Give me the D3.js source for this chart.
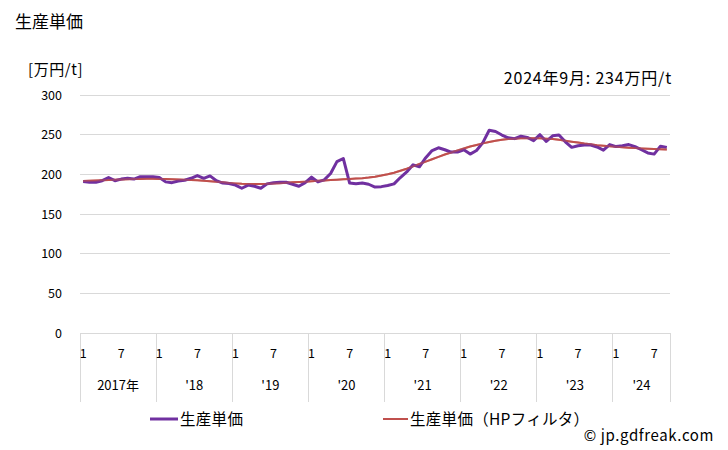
<!DOCTYPE html>
<html><head><meta charset="utf-8">
<script src="https://cdn.jsdelivr.net/npm/d3@7"></script>
<style>
body{margin:0;background:#fff;}
svg text{font-family:"Noto Sans CJK JP","Noto Sans",sans-serif;fill:#000;}
</style></head>
<body><svg id="c" width="728" height="450"></svg>
<script>
const startYear = 2017;
const monthsCount = 93;
const yearLabels = ["2017年","'18","'19","'20","'21","'22","'23","'24"];
const yTicks = [0,50,100,150,200,250,300];
const price = [
 191,190,190,192,196,192,194,195,194,197,197,197,
 196,190.5,189.5,191.5,192.5,195,198.5,195,198,192,189,188.5,
 186.5,182.5,186.5,185,182.5,188,189.5,190,190,187.5,185,189.5,
 196.5,190.5,193,201,216,220,189,188,189,187.5,184,184.5,
 186,188,196,203,212,209.5,221,230,233.5,231,228,228,
 231,225.5,230,240,255.5,254,249.5,246,245,248,246.5,242.5,
 250,241.5,248.5,249.5,241,234,236,237,237,234.5,230.5,237.5,
 235,236,237.5,235,231,227,225.5,235.5,234
];
const priceHP = [
 191.5,191.8,192.1,192.4,192.8,193.1,193.4,193.7,194.0,194.2,194.3,194.3,
 194.2,194.0,193.7,193.4,193.1,192.8,192.4,191.9,191.3,190.6,189.9,189.2,
 188.6,188.1,187.8,187.7,187.8,188.0,188.4,188.9,189.4,189.9,190.4,190.8,
 191.3,191.8,192.3,192.8,193.3,193.7,194.1,194.6,195.2,196.0,197.0,198.4,
 200,202,204.5,207,210,213,216,219,222,225,227.5,230,
 232.5,235,237,239,240.8,242.3,243.5,244.4,245,245.4,245.6,245.6,
 245.4,245,244.4,243.5,242.4,241.2,240,238.8,237.8,236.8,236,235.3,
 234.7,234.1,233.6,233.1,232.7,232.3,231.9,231.5,231.2
];
const seriesNames = ["生産単価","生産単価（HPフィルタ）"];
const colors = ["#7030a0","#c0504d"];

const svg = d3.select("#c");
const L = 80, R = 670, T = 95, B = 333;
const x = d3.scaleBand().domain(d3.range(monthsCount)).range([L,R]);
const y = d3.scaleLinear().domain([0,300]).range([B,T]);

// title
svg.append("text").attr("x",15).attr("y",28).attr("font-size",17).text("生産単価");
svg.append("text").attr("x",28).attr("y",75).attr("font-size",15).attr("letter-spacing",0.6).text("[万円/t]");
svg.append("text").attr("x",672).attr("y",84).attr("text-anchor","end").attr("font-size",16)
  .attr("letter-spacing",0.8).text("2024年9月: 234万円/t");

// grid
svg.append("g").selectAll("line").data(yTicks).join("line")
  .attr("x1",L).attr("x2",R).attr("y1",d=>y(d)).attr("y2",d=>y(d))
  .attr("stroke","#d9d9d9").attr("stroke-width",1).attr("shape-rendering","crispEdges");
svg.append("g").selectAll("text").data(yTicks).join("text")
  .attr("x",62).attr("y",d=>y(d)+4.5).attr("text-anchor","end").attr("font-size",12.5).text(d=>d);

// x axis year separators
const yearStarts = d3.range(0, monthsCount, 12);
const sepX = yearStarts.map(i=>x(i)).concat([R]);
svg.append("g").selectAll("line").data(sepX).join("line")
  .attr("x1",d=>d).attr("x2",d=>d).attr("y1",B).attr("y2",402)
  .attr("stroke","#d9d9d9").attr("shape-rendering","crispEdges");
// month labels
const monthIdx = d3.range(monthsCount).filter(i=>i%12===0||i%12===6);
svg.append("g").selectAll("text").data(monthIdx).join("text")
  .attr("x",i=>x(i)+x.bandwidth()/2).attr("y",358).attr("text-anchor","middle")
  .attr("font-size",12.5).text(i=>i%12===0?"1":"7");
// year labels
svg.append("g").selectAll("text").data(yearLabels).join("text")
  .attr("x",(d,k)=>(sepX[k]+sepX[k+1])/2).attr("y",390).attr("text-anchor","middle")
  .attr("font-size",13).text(d=>d);

// lines
const line = d3.line().x((d,i)=>x(i)+x.bandwidth()/2).y(d=>y(d));
svg.append("path").datum(priceHP).attr("d",line).attr("fill","none")
  .attr("stroke",colors[1]).attr("stroke-width",2);
svg.append("path").datum(price).attr("d",line).attr("fill","none")
  .attr("stroke",colors[0]).attr("stroke-width",3).attr("stroke-linejoin","round");
svg.append("path").datum(priceHP).attr("d",line).attr("fill","none")
  .attr("stroke",colors[1]).attr("stroke-width",2).attr("opacity",0.55);

// legend
const leg = [{x1:150,x2:178,tx:180,w:3},{x1:383,x2:408,tx:410,w:2}];
leg.forEach((l,k)=>{
  svg.append("line").attr("x1",l.x1).attr("x2",l.x2).attr("y1",419).attr("y2",419)
    .attr("stroke",colors[k]).attr("stroke-width",l.w);
  svg.append("text").attr("x",l.tx).attr("y",424.5).attr("font-size",15.5).attr("letter-spacing",0.3).text(seriesNames[k]);
});
svg.append("text").attr("x",714).attr("y",441).attr("text-anchor","end").attr("font-size",15)
  .attr("letter-spacing",0.6).text("© jp.gdfreak.com");
</script></body></html>
